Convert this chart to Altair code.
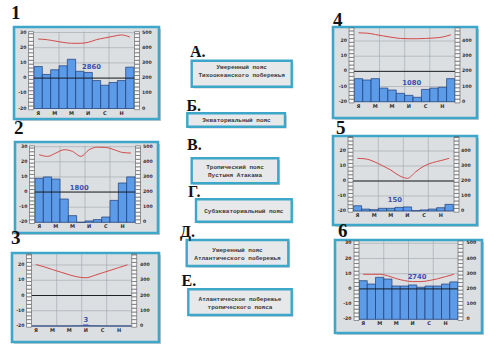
import altair as alt
import numpy as np
import pandas as pd

W, H = 500, 354

# ---------------- data ----------------
MONTHS = list(range(1, 13))
MONTH_TICKS = [1, 3, 5, 7, 9, 11]
MONTH_LABELS = ["Я", "М", "М", "И", "С", "Н"]
QUARTER_LINES = [3, 6, 9]

TEMP_1 = [25.7, 25.3, 24.4, 23.5, 22.9, 22.9, 23.5, 25.3, 26.4, 27.5, 28.4, 27.0]
PREC_1 = [276, 224, 255, 281, 324, 245, 237, 184, 153, 171, 184, 272]
TEMP_2 = [24.7, 23.6, 25.8, 28.0, 26.9, 23.6, 28.0, 29.7, 29.5, 28.0, 26.2, 25.8]
PREC_2 = [291, 300, 286, 154, 44, 0, 9, 18, 35, 145, 260, 300]
TEMP_3 = [20.3, 18.8, 17.0, 15.3, 13.6, 12.2, 11.6, 13.1, 14.9, 16.6, 18.4, 20.1]
PREC_3 = [0, 0, 0, 0, 0, 1, 1, 1, 0, 0, 0, 0]
TEMP_4 = [25.4, 25.2, 24.3, 23.3, 22.4, 21.7, 21.5, 21.5, 21.7, 22.0, 22.6, 24.1]
PREC_4 = [152, 143, 152, 90, 77, 55, 42, 29, 81, 90, 95, 152]
TEMP_5 = [15.1, 14.7, 12.9, 10.2, 7.3, 3.6, 1.8, 6.2, 10.0, 12.2, 13.6, 15.1]
PREC_5 = [35, 13, 9, 18, 18, 24, 27, 2, 7, 13, 22, 44]
TEMP_6 = [9.6, 9.6, 9.6, 8.6, 6.8, 5.5, 4.8, 4.8, 5.5, 6.6, 8.1, 9.6]
PREC_6 = [254, 232, 276, 265, 219, 219, 226, 211, 219, 219, 232, 246]

TOTALS = ["2860", "1800", "3", "1080", "150", "2740"]
PANEL_NUMBERS = ["1", "2", "3", "4", "5", "6"]

TEMP_TICKS_50 = [-20, -10, 0, 10, 20, 30]
MM_TICKS_50 = [0, 100, 200, 300, 400, 500]
TEMP_TICKS_40 = [-20, -10, 0, 10, 20]
MM_TICKS_40 = [0, 100, 200, 300, 400]

MID_LETTERS = ["А.", "Б.", "В.", "Г.", "Д.", "Е."]
MID_TEXT_A = ["Умеренный пояс", "Тихоокеанского побережья"]
MID_TEXT_B = ["Экваториальный пояс"]
MID_TEXT_V = ["Тропический пояс", "Пустыня Атакама"]
MID_TEXT_G = ["Субэкваториальный пояс"]
MID_TEXT_D = ["Умеренный пояс", "Атлантического побережья"]
MID_TEXT_E = ["Атлантическое побережье", "тропического пояса"]

# ---------------- layout / style ----------------
BOX_FILL = "#dcdfe2"
BOX_STROKE = "#3ea6c9"
SHADOW = "#b4b8bb"
BAR_FILL = "#5b9be8"
BAR_STROKE = "#1d3c78"
LINE_RED = "#d24a4a"
GRID = "#9ea5aa"
TXT = "#2f2f2f"
TOTAL_COLOR = "#3d4fb0"
SERIF = "Liberation Serif"
SANS = "DejaVu Sans"
MONO = "Liberation Mono"

PANELS = [
    dict(temp=TEMP_1, prec=PREC_1, tt=TEMP_TICKS_50, mt=MM_TICKS_50,
         box=(14, 27, 159, 119), bars=(34, 134), ym20=108.5, per10=15.2, top=30.6,
         sl=(28.5, 33.5), sr=(134.5, 139.5), lx=26.5, rx=142, my=112.5,
         num=(11, 19), tpos=(6.9, 7.4)),
    dict(temp=TEMP_2, prec=PREC_2, tt=TEMP_TICKS_50, mt=MM_TICKS_50,
         box=(15, 142, 158, 233), bars=(35, 135), ym20=222.3, per10=15.12, top=30.6,
         sl=(29.5, 34.5), sr=(135.5, 140.5), lx=27.5, rx=143, my=225.5,
         num=(14, 134), tpos=(5.3, 2.6)),
    dict(temp=TEMP_3, prec=PREC_3, tt=TEMP_TICKS_40, mt=MM_TICKS_40,
         box=(12, 253, 159, 342), bars=(31.7, 131.7), ym20=326, per10=15.25, top=27.2,
         sl=(26.5, 31.5), sr=(131.7, 136.7), lx=24.5, rx=140, my=329.5,
         num=(11, 244), tpos=(6.5, -16.0)),
    dict(temp=TEMP_4, prec=PREC_4, tt=TEMP_TICKS_40, mt=MM_TICKS_40,
         box=(333, 27, 477, 118), bars=(354.3, 455), ym20=101.7, per10=15.17, top=28.6,
         sl=(349, 354), sr=(455, 460), lx=347, rx=462, my=106,
         num=(333, 26), tpos=(6.84, -7.6)),
    dict(temp=TEMP_5, prec=PREC_5, tt=TEMP_TICKS_40, mt=MM_TICKS_40,
         box=(333, 136, 477, 225), bars=(353.3, 453.3), ym20=211, per10=15.0, top=29.3,
         sl=(348, 353), sr=(454, 459), lx=346, rx=461, my=215,
         num=(336, 134), tpos=(5.0, -12.7)),
    dict(temp=TEMP_6, prec=PREC_6, tt=TEMP_TICKS_50, mt=MM_TICKS_50,
         box=(335, 240, 482, 333), bars=(359, 458), ym20=319.3, per10=15.2, top=31.5,
         sl=(354, 359), sr=(458, 463), lx=351.5, rx=466.5, my=323,
         num=(338, 236.5), tpos=(7.04, 7.7)),
]

MID = [
    dict(letter=(190, 57), box=(191.7, 60.7, 291.7, 86.7), cx=241.7, ys=[67, 74.5], text=MID_TEXT_A),
    dict(letter=(186.5, 110.5), box=(187.3, 113.3, 285, 126.7), cx=236.5, ys=[120.2], text=MID_TEXT_B),
    dict(letter=(187, 150), box=(191.7, 158.3, 278.3, 183.3), cx=235, ys=[166.7, 174.5], text=MID_TEXT_V),
    dict(letter=(188, 197), box=(196, 199.3, 291.7, 221.7), cx=243.8, ys=[211.3], text=MID_TEXT_G),
    dict(letter=(180, 236.5), box=(186.7, 240, 288.3, 266), cx=237.5, ys=[250, 257.5], text=MID_TEXT_D),
    dict(letter=(181.5, 286), box=(188.3, 289.3, 291.7, 315), cx=240, ys=[299.3, 306.8], text=MID_TEXT_E),
]

ONE = pd.DataFrame({"k": [0]})


def t_scale(L):
    k = L["per10"] / 10.0
    d0 = -20 + (L["ym20"] - H) / k
    d1 = -20 + L["ym20"] / k
    return alt.Scale(domain=[d0, d1], nice=False, zero=False)


def mm_scale(L):
    k = L["per10"] / 10.0
    d0 = -20 + (L["ym20"] - H) / k
    d1 = -20 + L["ym20"] / k
    return alt.Scale(domain=[(d0 + 20) * 10, (d1 + 20) * 10], nice=False, zero=False)


def x_scale(L):
    a, b = L["bars"]
    k = (b - a) / 12.0
    return alt.Scale(domain=[-a / k, (W - a) / k], nice=False, zero=False)


def tpix(L, t):
    return L["ym20"] - (t + 20) * L["per10"] / 10.0


def rect_box(box, fill, stroke=None, sw=0, off=0, opacity=1.0):
    x0, y0, x1, y1 = box
    kw = dict(fill=fill, opacity=opacity)
    if stroke:
        kw.update(stroke=stroke, strokeWidth=sw)
    return alt.Chart(ONE).mark_rect(**kw).encode(
        x=alt.value(x0 + off), x2=alt.value(x1 + off),
        y=alt.value(y0 + off), y2=alt.value(y1 + off))


layers = []

for i, L in enumerate(PANELS):
    xs, ts, ms = x_scale(L), t_scale(L), mm_scale(L)
    # panel number
    layers.append(alt.Chart(ONE).mark_text(align="left", baseline="alphabetic", fontSize=19,
                                            fontWeight="bold", font=SERIF, color="#111").encode(
        x=alt.value(L["num"][0]), y=alt.value(L["num"][1]), text=alt.value(PANEL_NUMBERS[i])))
    layers.append(rect_box(L["box"], SHADOW, off=2, opacity=0.7))
    layers.append(rect_box(L["box"], BOX_FILL, BOX_STROKE, 2.6))

    inner_l, inner_r = L["sl"][1], L["sr"][0]
    # horizontal grid
    gdf = pd.DataFrame({"t": L["tt"]})
    layers.append(alt.Chart(gdf).mark_rule(color=GRID, strokeWidth=0.6).encode(
        y=alt.Y("t:Q", scale=ts, axis=None),
        x=alt.value(inner_l), x2=alt.value(inner_r)))
    # vertical grid
    vdf = pd.DataFrame({"q": QUARTER_LINES})
    layers.append(alt.Chart(vdf).mark_rule(color=GRID, strokeWidth=0.6).encode(
        x=alt.X("q:Q", scale=xs, axis=None),
        y=alt.value(tpix(L, L["top"])), y2=alt.value(tpix(L, -20))))
    # bars
    bdf = pd.DataFrame({"m": MONTHS, "mm": L["prec"]})
    bdf["x0"] = bdf["m"] - 1
    bdf["x1"] = bdf["m"]
    bdf["base"] = 0
    layers.append(alt.Chart(bdf).mark_rect(fill=BAR_FILL, stroke=BAR_STROKE, strokeWidth=0.7).encode(
        x=alt.X("x0:Q", scale=xs, axis=None), x2="x1:Q",
        y=alt.Y("mm:Q", scale=ms, axis=None), y2="base:Q"))
    # zero line
    zdf = pd.DataFrame({"t": [0]})
    layers.append(alt.Chart(zdf).mark_rule(color="#111", strokeWidth=0.9).encode(
        y=alt.Y("t:Q", scale=ts, axis=None),
        x=alt.value(inner_l), x2=alt.value(inner_r)))
    # temperature line
    ldf = pd.DataFrame({"m": MONTHS, "t": L["temp"]})
    ldf["xc"] = ldf["m"] - 0.5
    layers.append(alt.Chart(ldf).mark_line(color=LINE_RED, strokeWidth=1, interpolate="monotone").encode(
        x=alt.X("xc:Q", scale=xs, axis=None),
        y=alt.Y("t:Q", scale=ts, axis=None)))
    # stripes (film-strip rulers)
    edges = list(np.arange(-20.8, L["top"], 2.5)) + [L["top"]]
    for (sx0, sx1) in (L["sl"], L["sr"]):
        cdf = pd.DataFrame({"c0": edges[:-1], "c1": edges[1:]})
        layers.append(alt.Chart(cdf).mark_rect(fill="#f8f8f8", stroke="#555", strokeWidth=0.6).encode(
            y=alt.Y("c0:Q", scale=ts, axis=None), y2="c1:Q",
            x=alt.value(sx0), x2=alt.value(sx1)))
    # tick labels
    tl = pd.DataFrame({"t": L["tt"], "lab": [str(v) for v in L["tt"]]})
    layers.append(alt.Chart(tl).mark_text(align="right", baseline="middle", fontSize=4.6,
                                           fontWeight="bold", font=SANS, color=TXT).encode(
        y=alt.Y("t:Q", scale=ts, axis=None), x=alt.value(L["lx"]), text="lab:N"))
    ml = pd.DataFrame({"mm": L["mt"], "lab": [str(v) for v in L["mt"]]})
    layers.append(alt.Chart(ml).mark_text(align="left", baseline="middle", fontSize=4.6,
                                           fontWeight="bold", font=SANS, color=TXT).encode(
        y=alt.Y("mm:Q", scale=ms, axis=None), x=alt.value(L["rx"]), text="lab:N"))
    # month labels
    mdf = pd.DataFrame({"m": MONTH_TICKS, "lab": MONTH_LABELS})
    mdf["xc"] = mdf["m"] - 0.5
    layers.append(alt.Chart(mdf).mark_text(align="center", baseline="middle", fontSize=5,
                                            fontWeight="bold", font=SANS, color=TXT).encode(
        x=alt.X("xc:Q", scale=xs, axis=None), y=alt.value(L["my"]), text="lab:N"))
    # total precipitation label
    tdf = pd.DataFrame({"x": [L["tpos"][0]], "t": [L["tpos"][1]], "lab": [TOTALS[i]]})
    layers.append(alt.Chart(tdf).mark_text(align="center", baseline="middle", fontSize=6.8,
                                            fontWeight="bold", font=SANS, color=TOTAL_COLOR).encode(
        x=alt.X("x:Q", scale=xs, axis=None), y=alt.Y("t:Q", scale=ts, axis=None), text="lab:N"))
    if TOTALS[i] == "3":
        udf = pd.DataFrame({"x": [L["tpos"][0]], "t": [L["tpos"][1] - 3.2], "lab": ["мм"]})
        layers.append(alt.Chart(udf).mark_text(align="center", baseline="middle", fontSize=3.4,
                                                fontWeight="bold", font=SANS, color=TOTAL_COLOR).encode(
            x=alt.X("x:Q", scale=xs, axis=None), y=alt.Y("t:Q", scale=ts, axis=None), text="lab:N"))

for j, M in enumerate(MID):
    layers.append(rect_box(M["box"], SHADOW, off=1.8, opacity=0.7))
    layers.append(rect_box(M["box"], "#e6e8ea", BOX_STROKE, 2.4))
    for line, yy in zip(M["text"], M["ys"]):
        layers.append(alt.Chart(ONE).mark_text(align="center", baseline="middle", fontSize=6,
                                                fontWeight="bold", font=MONO, color="#3a3a3a").encode(
            x=alt.value(M["cx"]), y=alt.value(yy), text=alt.value(line)))
    layers.append(alt.Chart(ONE).mark_text(align="left", baseline="alphabetic", fontSize=16,
                                            fontWeight="bold", font=SERIF, color="#111").encode(
        x=alt.value(M["letter"][0]), y=alt.value(M["letter"][1]), text=alt.value(MID_LETTERS[j])))

chart = alt.layer(*layers).resolve_scale(x="independent", y="independent").properties(
    width=W, height=H, padding=0, background="white",
    autosize=alt.AutoSizeParams(type="none"),
).configure_view(stroke=None)

chart.save("out.html", embed_options={"renderer": "svg", "actions": False})
